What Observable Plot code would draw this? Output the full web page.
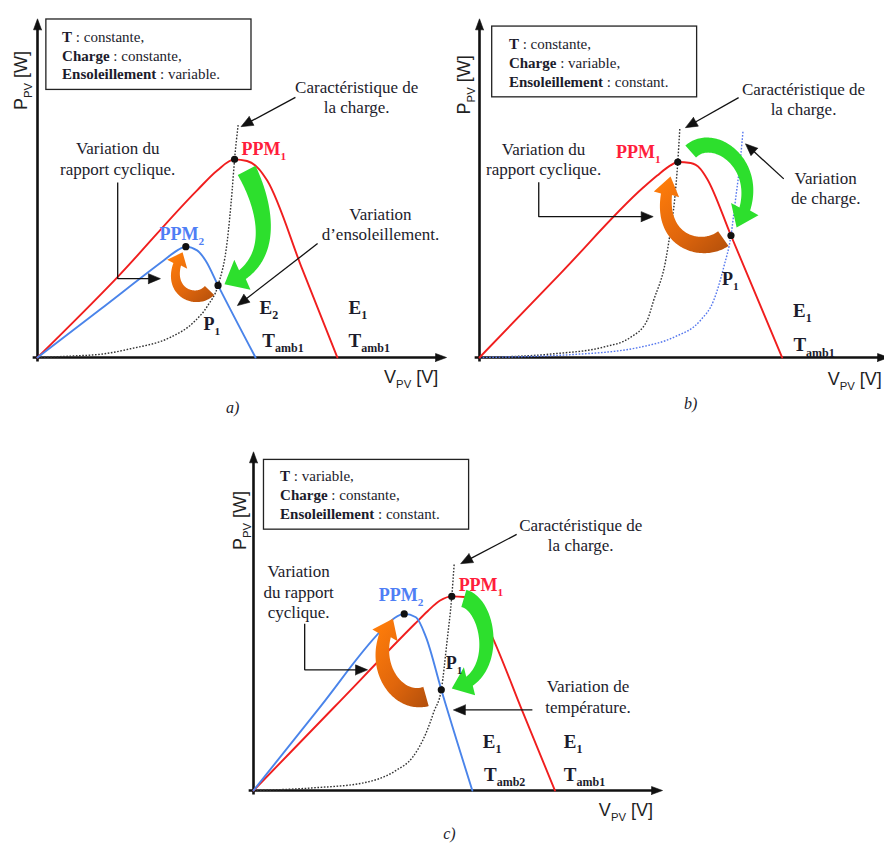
<!DOCTYPE html>
<html lang="fr">
<head>
<meta charset="utf-8">
<script src="https://cdn.jsdelivr.net/npm/d3@7"></script>
<script src="https://cdn.jsdelivr.net/npm/@observablehq/plot@0.6"></script>
<style>
html,body{margin:0;padding:0;background:#fff;}
#fig{position:relative;width:884px;height:845px;overflow:hidden;background:#fff;}
#fig svg{position:absolute;}
</style>
</head>
<body>
<div id="fig"></div>
<script>
// ---------------- DATA (V and P in % of the axis length) ----------------
// Panel a) : irradiance varies
const a_curveE1 = [[0,0],[19.8,23.8],[39.6,49.6],[44.6,55.5],[48.9,58.8],[52.0,58.3],[54.9,56.0],[57.0,52.5],[65.7,26.2],[74.4,0]];
const a_curveE2 = [[0,0],[15.7,14.4],[31.3,28.8],[34.7,31.8],[36.8,32.9],[39.6,31.8],[41.7,28.8],[44.8,21.4],[54.1,0]];
const a_load    = [[0,0],[8,0.4],[16.6,1.1],[23.1,2.6],[33.0,6.0],[38.8,10.5],[42.3,15.5],[44.8,21.4],[47.1,34.7],[48.3,49.6],[48.9,58.8],[49.8,69.1]];
const a_points  = [[48.9,58.8],[36.8,32.9],[44.8,21.4]];

// Panel b) : load varies
const b_curveE1 = [[0,0],[20.3,25.2],[40.7,50.5],[44.1,54.0],[47.4,57.0],[49.2,58.0],[52.4,57.7],[54.8,56.0],[56.5,53.0],[62.4,36.2],[75.1,0]];
const b_load1   = [[0,0],[18.4,1.1],[30.8,3.1],[37.5,6.0],[41.6,11.0],[43.2,16.9],[46.2,28.8],[47.4,37.7],[48.4,46.6],[49.2,58.0],[49.7,67.9]];
const b_load2   = [[0,0],[23.4,0.9],[40.0,3.1],[48.2,6.0],[54.8,11.0],[58.1,16.9],[60.6,26.8],[62.4,36.2],[63.5,46.6],[64.8,59.5],[65.4,67.4]];
const b_points  = [[49.2,58.0],[62.4,36.2]];

// Panel c) : temperature varies
const c_curveT1 = [[0,0],[20,24.7],[40,49.4],[43.2,53.2],[46.2,56.3],[49.2,57.6],[52.3,57.4],[55.6,54.4],[58.9,46.5],[66.8,23.3],[74.8,0]];
const c_curveT2 = [[0,0],[16.6,24.9],[31.5,47.2],[35,51.2],[37.4,52.4],[40.3,51.4],[42.8,45.5],[46.6,29.9],[54.3,0]];
const c_load    = [[0,0],[15,0.8],[27,2.2],[35.3,5.9],[39.5,9.9],[42.8,17],[44.8,23.5],[46.6,29.9],[48,44],[49.2,57.6],[49.8,67.3]];
const c_points  = [[49.2,57.6],[37.4,52.4],[46.6,29.9]];

// Texts
const boxA = "*T* : constante,\n*Charge* : constante,\n*Ensoleillement* : variable.";
const boxB = "*T* : constante,\n*Charge* : variable,\n*Ensoleillement* : constant.";
const boxC = "*T* : variable,\n*Charge* : constante,\n*Ensoleillement* : constant.";
const caracText = "Caractéristique de\nla charge.";
const yLabel = "P_PV [W]";
const xLabel = "V_PV [V]";

// ---------------- STYLE ----------------
const RED = "#f01e1e", BLUE = "#4a84ea", RED_T = "#ff1e3c", BLUE_T = "#4f7ef5";
const GREEN = "#2ddf2d", ORANGE_KEY = "#fe7a01";
const TXT = "#1c1c2c";
const SERIF = "Liberation Serif, Times New Roman, serif";
const SANS = "Liberation Sans, Arial, sans-serif";
const XR = [37, 440], YR = [357, 20];
const KX = (XR[1]-XR[0])/100, KY = (YR[0]-YR[1])/100;
const NS = "http://www.w3.org/2000/svg";

// ---------------- GEOMETRY HELPERS ----------------
function fatArrow(P, o) {
  const Q = P.map(([u,v]) => [u*KX, -v*KY]);
  const n = 90, pts = [];
  for (let i=0;i<=n;i++){
    const t=i/n, a=(1-t)**3, b=3*(1-t)**2*t, c=3*(1-t)*t*t, d=t**3;
    pts.push([a*Q[0][0]+b*Q[1][0]+c*Q[2][0]+d*Q[3][0], a*Q[0][1]+b*Q[1][1]+c*Q[2][1]+d*Q[3][1]]);
  }
  const L=[0];
  for (let i=1;i<=n;i++) L.push(L[i-1]+Math.hypot(pts[i][0]-pts[i-1][0], pts[i][1]-pts[i-1][1]));
  const end = L[n]-o.hl;
  const left=[], right=[]; let k=0;
  for (let i=0;i<=n && L[i]<=end;i++){
    const p=pts[i], q=pts[Math.min(i+1,n)], r=pts[Math.max(i-1,0)];
    let tx=q[0]-r[0], ty=q[1]-r[1]; const m=Math.hypot(tx,ty); tx/=m; ty/=m;
    const w=(o.w0+(o.w1-o.w0)*L[i]/end)/2;
    left.push([p[0]-ty*w, p[1]+tx*w]); right.push([p[0]+ty*w, p[1]-tx*w]); k=i;
  }
  const b=pts[k], tip=pts[n];
  let dx=tip[0]-b[0], dy=tip[1]-b[1]; const m=Math.hypot(dx,dy); dx/=m; dy/=m;
  const h=o.hw/2;
  const poly=[...left, [b[0]-dy*h, b[1]+dx*h], tip, [b[0]+dy*h, b[1]-dx*h], ...right.reverse(), left[0]];
  return poly.map(([x,y])=>[x/KX, -y/KY]);
}
function lineArrow(P, hl=12, hw=10) {
  const Q = P.map(([u,v]) => [u*KX, -v*KY]);
  const a=Q[Q.length-2], tip=Q[Q.length-1];
  let dx=tip[0]-a[0], dy=tip[1]-a[1]; const m=Math.hypot(dx,dy); dx/=m; dy/=m;
  const b=[tip[0]-dx*hl, tip[1]-dy*hl];
  const shaft=[...Q.slice(0,-1), [tip[0]-dx*(hl-2), tip[1]-dy*(hl-2)]];
  const head=[[b[0]-dy*hw/2, b[1]+dx*hw/2], tip, [b[0]+dy*hw/2, b[1]-dx*hw/2], [b[0]-dy*hw/2, b[1]+dx*hw/2]];
  const back = pts => pts.map(([x,y])=>[x/KX,-y/KY]);
  return {shaft: back(shaft), head: back(head)};
}
const X = d => d[0], Y = d => d[1];
function arrowMarks(P, opt={}) {
  const {shaft, head} = lineArrow(P, opt.hl ?? 12, opt.hw ?? 10);
  const col = opt.color ?? "#111";
  return [
    Plot.line(shaft, {x:X, y:Y, stroke:col, strokeWidth: opt.sw ?? 1.3, strokeLinecap:"butt", strokeLinejoin:"miter"}),
    Plot.line(head, {x:X, y:Y, fill:col, stroke:col, strokeWidth:0.6})
  ];
}

// ---------------- PANELS ----------------
const panels = [
  { id:"a", left:0, top:0,
    curves:[{d:a_curveE1, c:RED}, {d:a_curveE2, c:BLUE}],
    loads:[{d:a_load, c:"#333"}],
    points:a_points,
    box:{x1:2.2, x2:53.1, y1:79.4, y2:100.3, tx:6.1, ty:89.9, t:boxA},
    ppm:[{x:50.6,y:61.7,t:"PPM_1",c:RED_T},{x:30.3,y:36.5,t:"PPM_2",c:BLUE_T}],
    plab:[{x:41.2,y:9.9,t:"P_1"}],
    et:[{x:55.1,y:14.7,t:"E_2"},{x:55.8,y:4.9,t:"T_amb1"},{x:77.2,y:14.7,t:"E_1"},{x:77.2,y:4.9,t:"T_amb1"}],
    notes:[{x:79.2,y:77.4,t:caracText},{x:19.9,y:59.2,t:"Variation du\nrapport cyclique."},{x:85.1,y:39.8,t:"Variation\nd’ensoleillement."}],
    arrows:[[[64.0,77.2],[50.5,68.5]], [[69.5,33.8],[49.6,15.4]], [[19.9,51.9],[19.9,23.4],[30.5,23.4]]],
    fat:[{P:[[51.9,55.5],[55.8,46.6],[60.8,28.2],[46.4,21.7]], w0:20, w1:11, hw:34, hl:20, c:GREEN},
         {P:[[42.7,19.9],[39.2,15.4],[30.5,19.9],[36.0,31.2]], w0:13, w1:8, hw:22, hl:13, c:ORANGE_KEY}],
    ylab:{x:-4.0,y:82.2}, xlab:{x:86,y:-5.8}, tag:{x:48.4,y:-14.8,t:"a)"} },
  { id:"b", left:442, top:0,
    curves:[{d:b_curveE1, c:RED}],
    loads:[{d:b_load1, c:"#333"}, {d:b_load2, c:"#5577ee"}],
    points:b_points,
    box:{x1:3.15, x2:54.0, y1:77.2, y2:98.2, tx:7.3, ty:87.6, t:boxB},
    ppm:[{x:33.9,y:61,t:"PPM_1",c:RED_T}],
    plab:[{x:60.2,y:23.3,t:"P_1"}],
    et:[{x:77.8,y:13.9,t:"E_1"},{x:77.9,y:3.6,t:"T_amb1"}],
    notes:[{x:80.4,y:76.9,t:caracText},{x:15.9,y:59.1,t:"Variation du\nrapport cyclique."},{x:85.9,y:50.4,t:"Variation\nde charge."}],
    arrows:[[[64.3,77.1],[51.1,68.2]], [[75.5,53.0],[66.0,63.4]], [[14.7,52.0],[14.7,41.8],[43.1,41.8]]],
    fat:[{P:[[52.4,61.1],[58.6,68.0],[72.2,55.5],[63.8,38.6]], w0:16, w1:11, hw:30, hl:19, c:GREEN},
         {P:[[60.5,35.3],[54.8,30.3],[42.4,34.7],[47.4,53.7]], w0:18, w1:11, hw:26, hl:17, c:ORANGE_KEY}],
    ylab:{x:-3.8,y:80.9}, xlab:{x:86.4,y:-6.4}, tag:{x:52.4,y:-13.9,t:"b)"} },
  { id:"c", left:215.7, top:433,
    curves:[{d:c_curveT1, c:RED}, {d:c_curveT2, c:BLUE}],
    loads:[{d:c_load, c:"#333"}],
    points:c_points,
    box:{x1:2.6, x2:53.5, y1:77.4, y2:98.1, tx:6.6, ty:88.0, t:boxC},
    ppm:[{x:50.9,y:60.8,t:"PPM_1",c:RED_T},{x:31.1,y:57.9,t:"PPM_2",c:BLUE_T}],
    plab:[{x:47.7,y:37.8,t:"P_1"}],
    et:[{x:56.9,y:14.4,t:"E_1"},{x:57.2,y:4.7,t:"T_amb2"},{x:77,y:14.4,t:"E_1"},{x:77,y:4.7,t:"T_amb1"}],
    notes:[{x:81.2,y:76.0,t:caracText},{x:11.2,y:59.2,t:"Variation\ndu rapport\ncyclique."},{x:83.0,y:28.1,t:"Variation de\ntempérature."}],
    arrows:[[[65.3,76.0],[51.4,67.3]], [[69.2,23.9],[49.6,23.9]], [[12.7,49.5],[12.7,35.8],[28.3,35.8]]],
    fat:[{P:[[52.2,57.0],[58.9,54.9],[61.4,32.6],[49.2,30.3]], w0:18, w1:11, hw:30, hl:19, c:GREEN},
         {P:[[42.8,27.9],[35.3,25.2],[27.9,38.6],[34.6,51.0]], w0:20, w1:12, hw:28, hl:18, c:ORANGE_KEY}],
    ylab:{x:-3.2,y:80.1}, xlab:{x:85.7,y:-5.9}, tag:{x:48.6,y:-13.0,t:"c)"} }
];

// ---------------- RICH TEXT (bold *..*, subscripts _x) ----------------
function enrich(svg) {
  const leaves = [...svg.querySelectorAll("text, tspan")].filter(el => el.children.length === 0 && /[_*]/.test(el.textContent));
  for (const el of leaves) {
    const s = el.textContent;
    const fs = parseFloat(getComputedStyle(el).fontSize) || 16;
    el.textContent = "";
    const re = /\*([^*]+)\*|_([A-Za-z0-9]+)/g;
    let last = 0, m, shift = 0;
    const add = (txt, attrs) => {
      const t = document.createElementNS(NS, "tspan");
      for (const k in attrs) t.setAttribute(k, attrs[k]);
      t.textContent = txt; el.appendChild(t);
    };
    while ((m = re.exec(s))) {
      if (m.index > last) { add(s.slice(last, m.index), shift ? {dy: -shift} : {}); shift = 0; }
      if (m[1]) { add(m[1], Object.assign({"font-weight":"bold"}, shift ? {dy:-shift} : {})); shift = 0; }
      else { const d = fs*0.27; add(m[2], {"font-size": (fs*0.63).toFixed(1), dy: d}); shift = d; }
      last = re.lastIndex;
    }
    if (last < s.length) add(s.slice(last), shift ? {dy: -shift} : {});
  }
}

function buildPanel(p) {
  const marks = [];
  // axes with arrow heads
  marks.push(...arrowMarks([[0,-1.2],[0,100.5]], {hl:11, hw:8, sw:2.6}));
  marks.push(...arrowMarks([[-1.2,0],[101.5,0]], {hl:11, hw:8, sw:2.6}));
  // text box
  marks.push(Plot.rect([p.box], {x1:"x1", x2:"x2", y1:"y1", y2:"y2", fill:"white", stroke:"#222", strokeWidth:1.3}));
  marks.push(Plot.text([p.box], {x:"tx", y:"ty", text:"t", textAnchor:"start", lineAnchor:"middle", lineHeight:1.26, fontSize:15, fontFamily:SERIF, fill:TXT}));
  // load characteristics (dotted)
  for (const l of p.loads) marks.push(Plot.line(l.d, {x:X, y:Y, stroke:l.c, strokeWidth:1.4, strokeDasharray:"1.6 1.6", strokeLinecap:"butt", curve:"monotone-x"}));
  // P-V curves
  for (const c of p.curves) marks.push(Plot.line(c.d, {x:X, y:Y, stroke:c.c, strokeWidth:1.9, curve:"monotone-x"}));
  // fat curved arrows
  for (const f of p.fat) marks.push(Plot.line(fatArrow(f.P, f), {x:X, y:Y, fill:f.c, stroke:"none", curve:"linear"}));
  // straight annotation arrows
  for (const a of p.arrows) marks.push(...arrowMarks(a));
  // operating points
  marks.push(Plot.dot(p.points, {x:X, y:Y, r:3.6, fill:"#111", stroke:"none"}));
  // labels
  marks.push(Plot.text(p.ppm, {x:"x", y:"y", text:"t", fill:"c", textAnchor:"start", fontSize:18, fontWeight:"bold", fontFamily:SERIF}));
  marks.push(Plot.text(p.plab, {x:"x", y:"y", text:"t", textAnchor:"start", fontSize:18, fontWeight:"bold", fontFamily:SERIF, fill:TXT}));
  marks.push(Plot.text(p.et, {x:"x", y:"y", text:"t", textAnchor:"start", fontSize:19, fontWeight:"bold", fontFamily:SERIF, fill:TXT}));
  marks.push(Plot.text(p.notes, {x:"x", y:"y", text:"t", textAnchor:"middle", lineAnchor:"middle", lineHeight:1.2, fontSize:17, fontFamily:SERIF, fill:TXT}));
  marks.push(Plot.text([p.ylab], {x:"x", y:"y", text:() => yLabel, rotate:-90, textAnchor:"middle", fontSize:18, fontFamily:SANS, fill:"#222"}));
  marks.push(Plot.text([p.xlab], {x:"x", y:"y", text:() => xLabel, textAnchor:"start", fontSize:18, fontFamily:SANS, fill:"#222"}));
  marks.push(Plot.text([p.tag], {x:"x", y:"y", text:"t", textAnchor:"middle", fontSize:16, fontStyle:"italic", fontFamily:SERIF, fill:TXT}));

  const svg = Plot.plot({
    width: 442, height: 420,
    x: {domain:[0,100], range:XR, axis:null},
    y: {domain:[0,100], range:YR, axis:null},
    style: "background: transparent; overflow: visible;",
    marks
  });
  svg.style.left = p.left + "px";
  svg.style.top = p.top + "px";
  document.getElementById("fig").appendChild(svg);
  // orange gradient for the duty-cycle arrows
  const gid = "og-" + p.id;
  const defs = d3.select(svg).insert("defs", ":first-child");
  const g = defs.append("linearGradient").attr("id", gid).attr("x1", 1).attr("y1", 1).attr("x2", 0.15).attr("y2", 0);
  g.append("stop").attr("offset", 0).attr("stop-color", "#b24f0c");
  g.append("stop").attr("offset", 0.45).attr("stop-color", "#e0660c");
  g.append("stop").attr("offset", 1).attr("stop-color", "#ff7d0a");
  svg.querySelectorAll(`[fill="${ORANGE_KEY}"]`).forEach(el => el.setAttribute("fill", `url(#${gid})`));
  enrich(svg);
}
panels.forEach(buildPanel);
</script>
</body>
</html>
